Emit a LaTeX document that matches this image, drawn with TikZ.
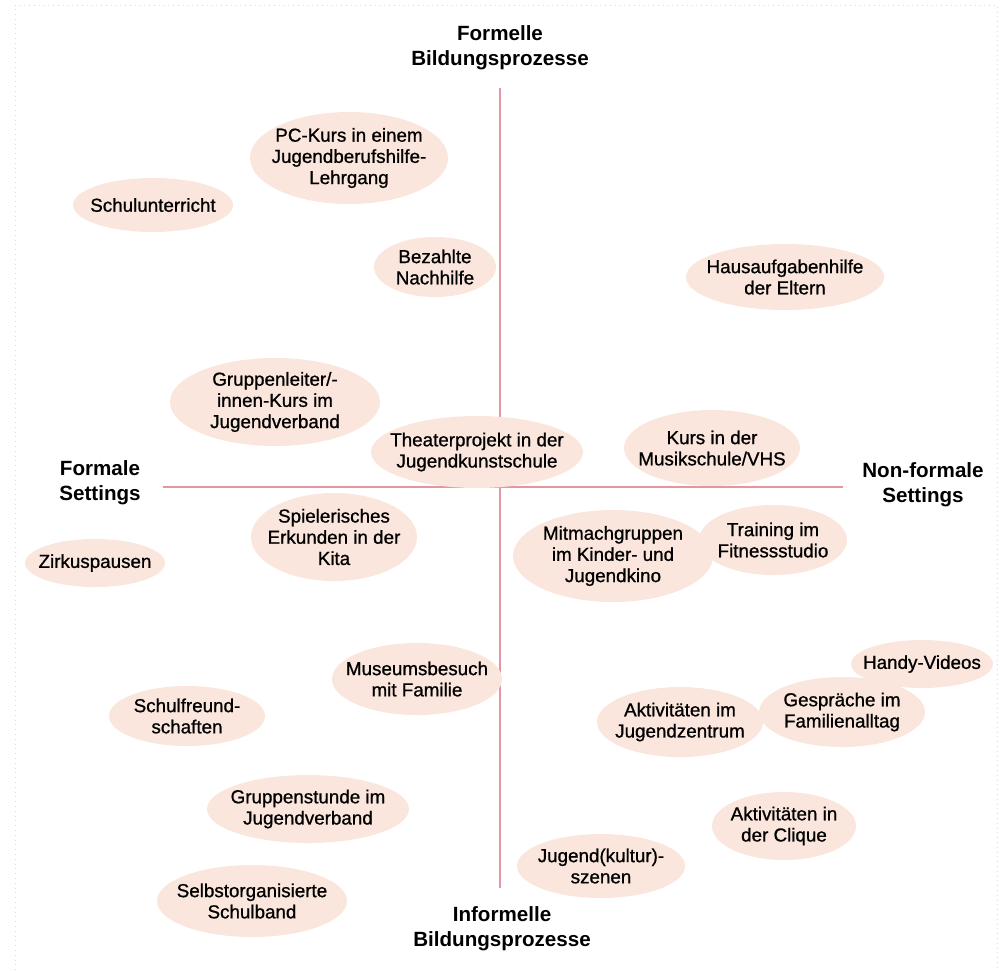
\documentclass[tikz,border=0pt]{standalone}
\usepackage{fontspec}
\setmainfont{Liberation Sans}
\newfontfamily\feldfont{Liberation Sans}[FakeBold=0.9]
\usetikzlibrary{shapes.geometric}
\definecolor{pfirsich}{RGB}{250,230,220}
\definecolor{rosa}{RGB}{228,150,160}
\begin{document}
\begin{tikzpicture}[x=0.5pt,y=-0.5pt,
    feld/.style={ellipse,fill=pfirsich,inner xsep=-10pt,inner ysep=-4pt,
      align=center,font=\feldfont\fontsize{9.4}{10.6}\selectfont},
    titel/.style={align=center,font=\fontsize{10.3}{12.6}\selectfont\bfseries},
    achse/.style={draw=rosa,line width=0.55pt}]
  \useasboundingbox (0,0) rectangle (1000,970);
  \draw[gray!30,dotted] (15,970) -- (15,5) -- (997,5) -- (997,970);
  % Achsen
  \coordinate (oben) at (500,88);
  \coordinate (unten) at (500,888);
  \coordinate (links) at (163,487);
  \coordinate (rechts) at (843,487);
  \draw[achse] (oben) -- (unten);
  \draw[achse] (links) -- (rechts);
  % Pole
  \node[titel] (formell) at (500,48) {Formelle\\Bildungsprozesse};
  \node[titel] (informell) at (502,929) {Informelle\\Bildungsprozesse};
  \node[titel] (formal) at (100,483) {Formale\\Settings};
  \node[titel] (nonformal) at (923,485) {Non-formale\\Settings};
  % Felder
  \node[feld,minimum width=99pt,minimum height=46pt] (pckurs) at (349,158)
    {PC-Kurs in einem\\Jugendberufshilfe-\\Lehrgang};
  \node[feld,minimum width=80pt,minimum height=27pt] (schule) at (153,205)
    {Schulunterricht};
  \node[feld,minimum width=61pt,minimum height=30pt] (nachhilfe) at (435,267)
    {Bezahlte\\Nachhilfe};
  \node[feld,minimum width=99pt,minimum height=33pt] (hausaufgaben) at (785,277)
    {Hausaufgabenhilfe\\der Eltern};
  \node[feld,minimum width=105pt,minimum height=44pt] (gruppenleiter) at (275,402)
    {Gruppenleiter/-\\innen-Kurs im\\Jugendverband};
  \node[feld,minimum width=106pt,minimum height=36pt] (theater) at (477,452)
    {Theaterprojekt in der\\Jugendkunstschule};
  \node[feld,minimum width=88pt,minimum height=38pt] (musikschule) at (712,448)
    {Kurs in der\\Musikschule/VHS};
  \node[feld,minimum width=83pt,minimum height=44pt] (kita) at (334,537)
    {Spielerisches\\Erkunden in der\\Kita};
  \node[feld,minimum width=70pt,minimum height=24pt] (zirkus) at (95,563)
    {Zirkuspausen};
  \node[feld,minimum width=100pt,minimum height=46pt] (kino) at (613,556)
    {Mitmachgruppen\\im Kinder- und\\Jugendkino};
  \node[feld,minimum width=74pt,minimum height=35pt] (fitness) at (773,540)
    {Training im\\Fitnessstudio};
  \node[feld,minimum width=85pt,minimum height=36pt] (museum) at (417,679)
    {Museumsbesuch\\mit Familie};
  \node[feld,minimum width=78pt,minimum height=30pt] (freunde) at (187,716)
    {Schulfreund-\\schaften};
  \node[feld,minimum width=71pt,minimum height=24pt] (handy) at (922,664)
    {Handy-Videos};
  \node[feld,minimum width=83pt,minimum height=35pt] (gespraeche) at (842,712)
    {Gespräche im\\Familienalltag};
  \node[feld,minimum width=83pt,minimum height=35pt] (jugendzentrum) at (680,722)
    {Aktivitäten im\\Jugendzentrum};
  \node[feld,minimum width=101pt,minimum height=34pt] (gruppenstunde) at (308,809)
    {Gruppenstunde im\\Jugendverband};
  \node[feld,minimum width=72pt,minimum height=34pt] (clique) at (784,826)
    {Aktivitäten in\\der Clique};
  \node[feld,minimum width=84pt,minimum height=32pt] (szenen) at (601,866)
    {Jugend(kultur)-\\szenen};
  \node[feld,minimum width=95pt,minimum height=36pt] (schulband) at (252,901)
    {Selbstorganisierte\\Schulband};
\end{tikzpicture}
\end{document}
